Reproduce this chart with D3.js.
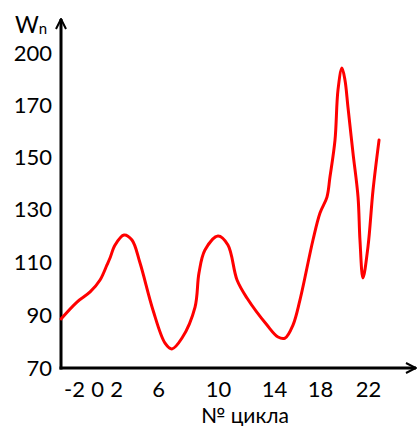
<!DOCTYPE html>
<html>
<head>
<meta charset="utf-8">
<script src="https://cdn.jsdelivr.net/npm/d3@7"></script>
<style>
  body { margin: 0; background: #fff; }
  svg { display: block; font-family: Lato, "Open Sans", sans-serif; }
</style>
</head>
<body>
<div id="main-vis"></div>
<script>
// tick labels as printed on the hand-drawn axes
const xTicks = [-2, 0, 2, 6, 10, 14, 18, 22]
const yTicks = [70, 90, 110, 130, 150, 170, 200]

// curve (cycle number, Wn)
const cycle = [-3.13, -1.74, -0.6, 0.32, 1.05, 1.37, 1.9, 2.76, 3.52, 4.29, 5.52, 6.47, 6.93, 7.6, 8.47, 8.73, 9.13, 10, 10.71, 11.36, 12.07, 13.5, 14.35, 14.96, 15.65, 16.26, 17.39, 18, 18.58, 18.83, 19.25, 19.5, 19.83, 20.08, 20.33, 20.75, 21.17, 21.33, 21.58, 22, 22.42, 22.92]
const wn = [88.5, 94.9, 98.7, 103.2, 108.9, 111.5, 116.4, 120.2, 118.3, 109.6, 91.9, 79.4, 77.2, 81.3, 93.0, 105.8, 114.5, 119.8, 116.4, 103.2, 96.4, 86.2, 81.7, 81.3, 86.2, 95.7, 118.3, 128.5, 134.6, 142.3, 156.5, 178.7, 191.3, 184.4, 169.2, 151.5, 134.6, 118.3, 104.0, 115.8, 137.3, 156.5]

window.onload = setup

function setup () {
    const W = 417, H = 426

    const svg = d3.create('svg')
        .attr('width', W)
        .attr('height', H)

    // the axes were drawn by hand, so the label spacing is uneven
    const x = d3.scaleLinear()
        .domain(xTicks)
        .range([74, 97, 116, 158, 218, 274, 320, 368])
    const y = d3.scaleLinear()
        .domain(yTicks)
        .range([368, 315, 262, 209, 157, 105, 53])

    const x0 = x(-3.13)
    const yBase = y(70)

    // arrow heads
    const defs = svg.append('defs')
    defs.append('marker')
        .attr('id', 'arr')
        .attr('viewBox', '0 0 12 12')
        .attr('refX', 11).attr('refY', 6)
        .attr('markerWidth', 12).attr('markerHeight', 12)
        .attr('markerUnits', 'userSpaceOnUse')
        .attr('orient', 'auto')
        .append('path')
        .attr('d', 'M1,1 L11,6 L1,11')
        .attr('fill', 'none')
        .attr('stroke', '#000')
        .attr('stroke-width', 2)

    // y axis
    svg.append('line')
        .attr('x1', x0).attr('y1', yBase + 1.5)
        .attr('x2', x0).attr('y2', 19)
        .attr('stroke', '#000').attr('stroke-width', 3)
        .attr('marker-end', 'url(#arr)')
    // x axis
    svg.append('line')
        .attr('x1', x0 - 1.5).attr('y1', yBase)
        .attr('x2', 416).attr('y2', yBase)
        .attr('stroke', '#000').attr('stroke-width', 3)
        .attr('marker-end', 'url(#arr)')

    const gy = svg.append('g')
        .attr('transform', `translate(${x0},0)`)
        .call(d3.axisLeft(y).tickValues(yTicks).tickSize(0).tickPadding(9).tickFormat(d => String(d)))
    gy.select('.domain').remove()
    gy.selectAll('text')
        .attr('font-size', 22)
        .attr('font-family', 'Lato, "Open Sans", sans-serif')
        .attr('fill', '#000')

    const gx = svg.append('g')
        .attr('transform', `translate(0,${yBase})`)
        .call(d3.axisBottom(x).tickValues(xTicks).tickSize(0).tickPadding(13).tickFormat(d => String(d)))
    gx.select('.domain').remove()
    gx.selectAll('text')
        .attr('font-size', 22)
        .attr('font-family', 'Lato, "Open Sans", sans-serif')
        .attr('fill', '#000')

    // axis titles
    const wt = svg.append('text')
        .attr('x', 15).attr('y', 33)
        .attr('font-size', 23)
        .attr('fill', '#000')
    wt.append('tspan').text('W')
    wt.append('tspan').attr('font-size', 15).attr('dy', 1).text('n')

    svg.append('text')
        .attr('x', 245).attr('y', 423)
        .attr('text-anchor', 'middle')
        .attr('font-size', 21)
        .attr('fill', '#000')
        .text('№ цикла')

    const line = d3.line()
        .x(d => x(d[0]))
        .y(d => y(d[1]))
        .curve(d3.curveCatmullRom.alpha(0.5))

    svg.append('path')
        .datum(d3.zip(cycle, wn))
        .attr('d', line)
        .attr('fill', 'none')
        .attr('stroke', '#ff0000')
        .attr('stroke-width', 3)
        .attr('stroke-linecap', 'round')
        .attr('stroke-linejoin', 'round')

    document.querySelector('#main-vis').appendChild(svg.node())
}
</script>
</body>
</html>
